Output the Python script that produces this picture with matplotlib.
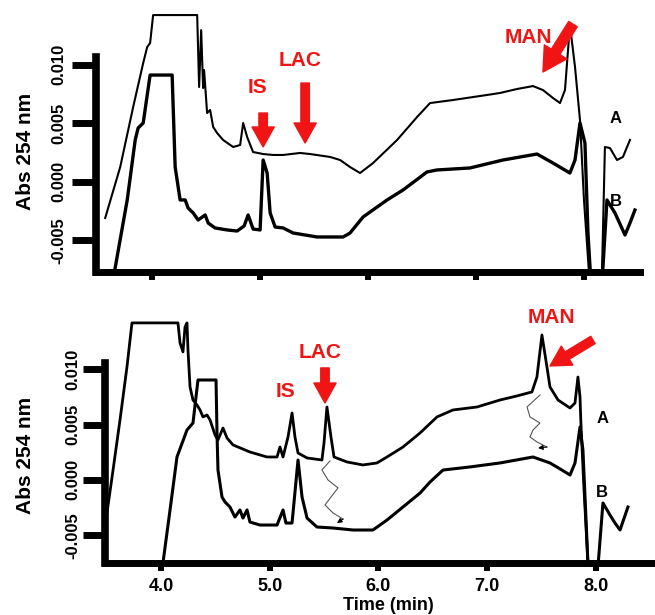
#!/usr/bin/env python3
# electropherograms A / B, two runs stacked, Abs 254 nm vs migration time
import numpy as np
import matplotlib
matplotlib.use('Agg')
import matplotlib.pyplot as plt

plt.rcParams['font.family'] = ['Liberation Sans', 'DejaVu Sans']
plt.rcParams['font.weight'] = 'bold'

RED = '#f01414'

# ---- top run, trace A (time in min, abs in units of 1e-3)
top_t_A = [3.565, 3.704, 3.824, 3.917, 3.954, 3.981, 4.009, 4.417, 4.435, 4.454, 4.472, 4.481,
           4.509, 4.537, 4.565, 4.602, 4.657, 4.750, 4.815, 4.843, 4.880, 4.935, 5.028, 5.120,
           5.213, 5.370, 5.463, 5.648, 5.741, 5.833, 5.926, 6.046, 6.269,
           6.454, 6.574, 6.787, 7.102, 7.222, 7.380, 7.528, 7.620, 7.713, 7.778, 7.824, 7.870,
           7.917, 7.963, 8.000, 8.046, 8.074, 8.139, 8.167, 8.194, 8.241, 8.306, 8.361, 8.426]
top_abs_A = [-3.09, 1.26, 6.38, 10.14, 11.50, 11.84, 14.23, 14.23, 8.09, 12.95, 8.00, 9.54,
             5.87, 6.13, 4.68, 4.16, 3.57, 2.97, 3.14, 5.02, 3.82, 2.54, 2.37, 2.29,
             2.29, 2.46, 2.37, 2.12, 1.86, 1.26, 0.75, 1.60, 3.57,
             5.53, 6.72, 6.98, 7.41, 7.58, 7.92, 8.17, 7.83, 7.15, 6.72, 7.83, 13.38,
             9.80, 5.27, -1.55, -7.70, -9.23, -9.23, -7.70, 2.97, 2.88, 1.86, 2.12, 3.57]

# ---- top run, trace B
top_t_B = [3.657, 3.769, 3.843, 3.870, 3.917, 3.981, 4.185, 4.213, 4.259, 4.306, 4.333, 4.380,
           4.426, 4.491, 4.519, 4.583, 4.694, 4.787, 4.852, 4.889, 4.935, 5.000, 5.028, 5.065,
           5.093, 5.139, 5.213, 5.306, 5.528, 5.769, 5.833, 5.954, 6.176, 6.324, 6.546, 6.639,
           6.944, 7.250, 7.565, 7.713, 7.870, 7.917, 7.963, 8.009, 8.037, 8.056, 8.074, 8.148,
           8.176, 8.213, 8.287, 8.380, 8.426, 8.472]
top_abs_B = [-7.36, -1.55, 3.57, 4.59, 5.02, 9.11, 9.11, 1.26, -1.55, -1.55, -2.24, -2.66,
             -3.26, -2.83, -3.52, -3.94, -4.11, -4.20, -3.77, -2.83, -4.03, -4.11, 1.86, 0.75,
             -2.66, -3.86, -3.94, -4.37, -4.71, -4.71, -4.37, -3.00, -1.55, -0.70, 0.84, 1.01,
             1.18, 1.86, 2.37, 1.60, 0.75, 1.86, 5.02, 3.31, -4.37, -7.27, -9.23, -9.23,
             -7.27, -1.55, -2.66, -4.54, -3.52, -2.41]

# ---- bottom run, trace A
bot_t_A = [3.494, 3.559, 3.623, 3.687, 3.733, 4.156, 4.175, 4.202, 4.221, 4.239, 4.248, 4.267,
           4.294, 4.331, 4.359, 4.386, 4.423, 4.451, 4.497, 4.524, 4.570, 4.607, 4.662, 4.818,
           4.975, 5.067, 5.094, 5.122, 5.168, 5.205, 5.232, 5.260, 5.343, 5.480, 5.499, 5.526,
           5.563, 5.591, 5.710, 5.857, 5.986, 6.078, 6.225, 6.382, 6.538, 6.685, 6.906, 7.117,
           7.274, 7.411, 7.457, 7.503, 7.549, 7.577, 7.651, 7.761, 7.807, 7.834, 7.853, 7.862,
           7.890, 7.926, 7.945]
bot_abs_A = [-3.63, 0.89, 5.42, 10.21, 14.19, 14.19, 12.38, 11.57, 13.83, 14.19, 11.75, 8.40,
             7.22, 6.77, 6.32, 5.69, 5.87, 5.42, 4.06, 3.61, 4.69, 3.79, 3.16, 2.52,
             2.07, 2.07, 2.97, 2.07, 3.88, 6.05, 3.88, 2.43, 1.98, 1.80, 3.34, 6.59,
             3.88, 2.07, 1.62, 1.35, 1.53, 2.07, 2.97, 4.24, 5.69, 6.32, 6.59, 7.22,
             7.59, 7.95, 9.30, 13.10, 10.21, 8.40, 7.22, 6.50, 6.95, 9.30, 7.50, 4.96,
             -0.91, -7.51, -9.95]

# ---- bottom run, trace B
bot_t_B = [4.018, 4.083, 4.147, 4.239, 4.294, 4.340, 4.506, 4.515, 4.524, 4.561, 4.589, 4.634,
           4.680, 4.726, 4.754, 4.791, 4.818, 4.910, 5.067, 5.122, 5.149, 5.205, 5.260, 5.297,
           5.343, 5.434, 5.582, 5.766, 5.949, 6.078, 6.225, 6.382, 6.474, 6.593, 6.841, 7.117,
           7.421, 7.577, 7.687, 7.761, 7.807, 7.853, 7.880, 7.926, 7.945, 8.000, 8.018, 8.064,
           8.129, 8.175, 8.221, 8.294]
bot_abs_B = [-7.51, -2.72, 2.07, 4.51, 5.14, 9.03, 9.03, 4.24, 0.89, -1.55, -2.00, -2.45,
             -3.36, -2.72, -3.45, -2.72, -3.81, -4.08, -4.08, -2.72, -3.90, -3.90, 1.80, -1.55,
             -3.45, -4.26, -4.35, -4.53, -4.53, -3.63, -2.45, -1.19, -0.19, 0.89, 1.17, 1.53,
             2.07, 1.53, 0.89, 0.44, 1.53, 4.78, 2.70, -7.51, -9.95, -9.95, -7.87, -2.09,
             -3.18, -3.90, -4.53, -2.45]

# hand drawn wavy arrows in the bottom run (time, abs 1e-3)
wave1_t = [5.554, 5.480, 5.536, 5.628, 5.563, 5.508, 5.582, 5.674, 5.618]
wave1_abs = [1.71, 0.90, -0.01, -0.73, -1.55, -2.27, -2.99, -3.54, -3.90]
wave2_t = [7.485, 7.366, 7.393, 7.485, 7.421, 7.393, 7.457, 7.549, 7.467]
wave2_abs = [7.67, 6.59, 5.69, 5.14, 4.51, 3.88, 3.43, 2.97, 2.88]

ytick_vals = [-0.005, 0.0, 0.005, 0.010]
ytick_labels = ['-0.005', '0.000', '0.005', '0.010']
xtick_vals = [4.0, 5.0, 6.0, 7.0, 8.0]
xtick_labels = ['4.0', '5.0', '6.0', '7.0', '8.0']


def red_arrow(ax, tail, tip, scale=16):
    ax.annotate('', xy=(tip[0], tip[1] * 1e-3), xytext=(tail[0], tail[1] * 1e-3),
                arrowprops=dict(arrowstyle='simple,head_length=0.9,head_width=1.0,tail_width=0.38',
                                color=RED, mutation_scale=scale, shrinkA=0, shrinkB=0))


def red_text(ax, x, y, s):
    ax.text(x, y * 1e-3, s, color=RED, fontsize=15, fontweight='bold', ha='center', va='center')


def wavy(ax, tt, aa):
    aa = np.array(aa) * 1e-3
    ax.plot(tt[:-1], aa[:-1], color='#555555', lw=0.8)
    ax.annotate('', xy=(tt[-1], aa[-1]), xytext=(tt[-2], aa[-2]),
                arrowprops=dict(arrowstyle='-|>', color='black', lw=0.8, mutation_scale=7,
                                shrinkA=0, shrinkB=0))


def style(ax, xlim, ylim, spine_top, tlen, tpad, show_x):
    ax.set_xlim(*xlim)
    ax.set_ylim(*ylim)
    for s in ['top', 'right']:
        ax.spines[s].set_visible(False)
    ax.spines['left'].set_linewidth(5.5)
    ax.spines['bottom'].set_linewidth(5)
    ax.spines['left'].set_bounds(ylim[0], spine_top)
    ax.set_yticks(ytick_vals)
    ax.set_yticklabels(ytick_labels, rotation=90, va='center')
    ax.tick_params(axis='y', length=tlen, width=5, pad=tpad, labelsize=12)
    ax.set_xticks(xtick_vals)
    if show_x:
        ax.set_xticklabels(xtick_labels)
    else:
        ax.set_xticklabels([])
    ax.tick_params(axis='x', length=5.5, width=4.3, pad=5, labelsize=13)
    ax.patch.set_alpha(0)


fig = plt.figure(figsize=(6.55, 6.15), dpi=100)
ax1 = fig.add_axes([0.1466, 0.5577, 0.8305, 0.4260])
ax2 = fig.add_axes([0.1603, 0.0846, 0.8366, 0.4114])

# top run
ax1.plot(top_t_A, np.array(top_abs_A) * 1e-3, color='black', lw=1.5, solid_joinstyle='round')
ax1.plot(top_t_B, np.array(top_abs_B) * 1e-3, color='black', lw=2.4, solid_joinstyle='round')
style(ax1, (3.48, 8.519), (-0.00770, 0.01466), 0.01065, 17, 4, False)
red_text(ax1, 4.972, 8.09, 'IS')
red_arrow(ax1, (5.028, 5.87), (5.028, 2.97))
red_text(ax1, 5.370, 10.31, 'LAC')
red_arrow(ax1, (5.417, 8.43), (5.417, 3.31))
red_text(ax1, 7.481, 12.35, 'MAN')
red_arrow(ax1, (7.898, 13.46), (7.620, 9.37), scale=19)
ax1.text(8.296, 5.44e-3, 'A', fontsize=12, fontweight='bold', ha='center', va='center')
ax1.text(8.296, -1.64e-3, 'B', fontsize=12, fontweight='bold', ha='center', va='center')

# bottom run
ax2.plot(bot_t_A, np.array(bot_abs_A) * 1e-3, color='black', lw=2.0, solid_joinstyle='round')
ax2.plot(bot_t_B, np.array(bot_abs_B) * 1e-3, color='black', lw=2.2, solid_joinstyle='round')
style(ax2, (3.485, 8.524), (-0.00751, 0.01536), 0.01057, 16, 2, True)
wavy(ax2, wave1_t, wave1_abs)
wavy(ax2, wave2_t, wave2_abs)
red_text(ax2, 5.149, 7.95, 'IS')
red_text(ax2, 5.462, 11.47, 'LAC')
red_arrow(ax2, (5.508, 10.12), (5.508, 6.95))
red_text(ax2, 7.586, 14.64, 'MAN')
red_arrow(ax2, (7.972, 12.65), (7.577, 10.30))
ax2.text(8.064, 5.51e-3, 'A', fontsize=12, fontweight='bold', ha='center', va='center')
ax2.text(8.055, -1.18e-3, 'B', fontsize=12, fontweight='bold', ha='center', va='center')

# shared labels
fig.text(26 / 655, 1 - 151 / 615, 'Abs 254 nm', rotation=90, fontsize=15, fontweight='bold',
         ha='center', va='center')
fig.text(26 / 655, 1 - 455 / 615, 'Abs 254 nm', rotation=90, fontsize=15, fontweight='bold',
         ha='center', va='center')
fig.text(388 / 655, 1 - 606 / 615, 'Time (min)', fontsize=13, fontweight='bold',
         ha='center', va='center')

fig.savefig('out.png', dpi=100)
